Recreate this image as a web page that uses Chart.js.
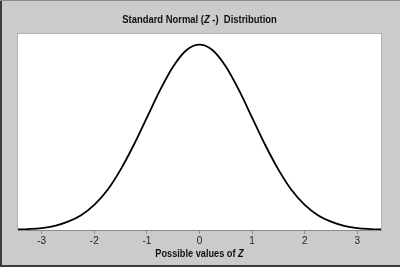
<!DOCTYPE html>
<html>
<head>
<meta charset="utf-8">
<script src="https://cdn.jsdelivr.net/npm/chart.js@4"></script>
<style>
  html, body { margin: 0; padding: 0; background: #cbcbcb; }
  #wrap { width: 400px; height: 267px; }
</style>
</head>
<body>
<div id="wrap"><canvas id="chart" width="400" height="267"></canvas></div>
<script>
// values
const zValues = [-3.5, -3.25, -3, -2.75, -2.5, -2.25, -2, -1.75, -1.5, -1.25, -1, -0.75, -0.5, -0.25,
  0, 0.25, 0.5, 0.75, 1, 1.25, 1.5, 1.75, 2, 2.25, 2.5, 2.75, 3, 3.25, 3.5];
const density = [0.001, 0.002, 0.004, 0.009, 0.018, 0.032, 0.054, 0.086, 0.130, 0.183, 0.242, 0.301, 0.352, 0.387,
  0.399, 0.387, 0.352, 0.301, 0.242, 0.183, 0.130, 0.086, 0.054, 0.032, 0.018, 0.009, 0.004, 0.002, 0.001];
const xTicks = [-3, -2, -1, 0, 1, 2, 3];

const FONT = '"Liberation Sans Narrow", "Liberation Sans", Arial, sans-serif';

const titleParts = [
  { text: 'Standard Normal (', style: 'bold' },
  { text: 'Z', style: 'italic bold' },
  { text: ' -)  Distribution', style: 'bold' }
];
const axisTitleParts = [
  { text: 'Possible values of ', style: 'bold' },
  { text: 'Z', style: 'italic bold' }
];

// condensed look: squeeze the text horizontally
function drawRichText(ctx, parts, size, cx, cy, squeeze) {
  let total = 0;
  parts.forEach(p => {
    ctx.font = `${p.style} ${size}px ${FONT}`;
    p.w = ctx.measureText(p.text).width;
    total += p.w;
  });
  ctx.save();
  ctx.translate(cx, cy);
  ctx.scale(squeeze, 1);
  let x = -total / 2;
  ctx.textBaseline = 'middle';
  ctx.textAlign = 'left';
  ctx.fillStyle = '#111';
  parts.forEach(p => {
    ctx.font = `${p.style} ${size}px ${FONT}`;
    ctx.fillText(p.text, x, 0);
    x += p.w;
  });
  ctx.restore();
}

const framePlugin = {
  id: 'frame',
  beforeDraw(chart) {
    const { ctx, width, height, chartArea: a } = chart;
    ctx.save();
    ctx.fillStyle = '#cbcbcb';
    ctx.fillRect(0, 0, width, height);
    ctx.fillStyle = '#ffffff';
    ctx.fillRect(a.left, a.top, a.right - a.left, a.bottom - a.top);
    ctx.strokeStyle = '#b0b0b0';
    ctx.lineWidth = 1;
    ctx.strokeRect(a.left - 0.5, a.top - 0.5, a.right - a.left + 1, a.bottom - a.top + 1);
    ctx.restore();
  },
  afterDraw(chart) {
    const { ctx, width, height, chartArea: a } = chart;
    ctx.save();
    drawRichText(ctx, titleParts, 11.5, (a.left + a.right) / 2, 20, 0.82);
    drawRichText(ctx, axisTitleParts, 11.5, (a.left + a.right) / 2, 254, 0.8);
    // outer frame
    ctx.fillStyle = '#3c3c3c';
    ctx.fillRect(0, 0, 2, height);
    ctx.fillRect(0, height - 2, width, 2);
    ctx.fillStyle = '#8a8a8a';
    ctx.fillRect(0, 0, width, 1);
    ctx.restore();
  }
};

new Chart(document.getElementById('chart'), {
  type: 'line',
  data: {
    labels: zValues,
    datasets: [{
      data: zValues.map((z, i) => ({ x: z, y: density[i] })),
      borderColor: '#000000',
      borderWidth: 1.8,
      pointRadius: 0,
      fill: false,
      cubicInterpolationMode: 'monotone'
    }]
  },
  options: {
    responsive: false,
    animation: false,
    devicePixelRatio: 1,
    layout: { padding: { left: 18, right: 19, top: 34, bottom: 0 } },
    plugins: {
      legend: { display: false },
      title: { display: false },
      tooltip: { enabled: false }
    },
    scales: {
      x: {
        type: 'linear',
        min: -3.45,
        max: 3.45,
        afterBuildTicks: scale => { scale.ticks = xTicks.map(v => ({ value: v })); },
        afterFit: scale => { scale.height = 37; },
        grid: { drawOnChartArea: false, drawTicks: true, tickLength: 4, color: '#8c8c8c' },
        border: { color: '#8c8c8c', width: 1 },
        ticks: {
          padding: 1,
          color: '#222',
          font: { family: FONT, size: 10 },
          maxRotation: 0,
          callback: v => String(v)
        }
      },
      y: {
        display: false,
        min: 0,
        max: 0.422
      }
    }
  },
  plugins: [framePlugin]
});
</script>
</body>
</html>
